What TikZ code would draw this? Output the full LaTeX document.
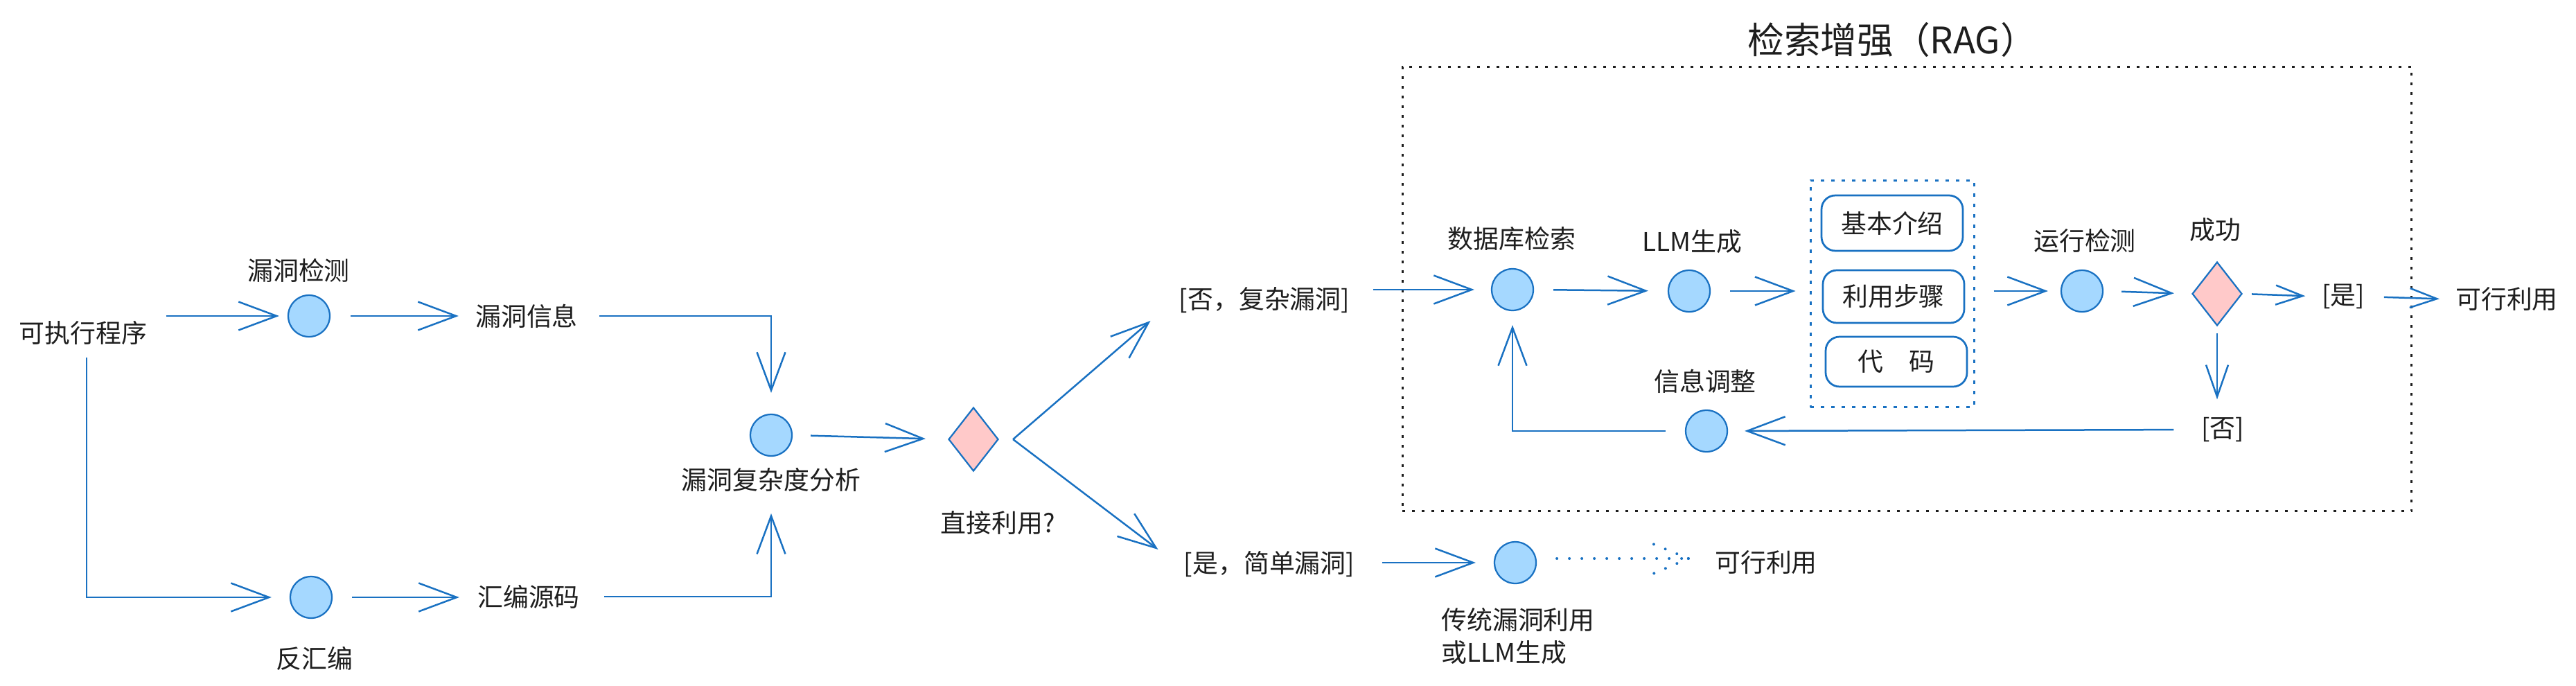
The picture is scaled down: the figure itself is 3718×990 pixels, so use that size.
\documentclass[tikz,border=0pt]{standalone}
\usepackage{fontspec}
\setmainfont{Noto Sans CJK SC}
\usetikzlibrary{arrows.meta,shapes.geometric}
\definecolor{blueA}{HTML}{1971C2}
\definecolor{fillA}{HTML}{A5D8FF}
\definecolor{fillB}{HTML}{FFC9C9}
\definecolor{ink}{HTML}{1E1E1E}
\begin{document}
\begin{tikzpicture}[x=0.02cm,y=-0.02cm,
  txt/.style={font=\fontsize{21pt}{26pt}\selectfont, text=ink, inner sep=0pt},
  ttlstyle/.style={font=\fontsize{30pt}{36pt}\selectfont, text=ink, inner sep=0pt},
  circ/.style={circle, draw=blueA, fill=fillA, line width=0.045cm, minimum size=1.2cm, inner sep=0pt},
  dia/.style={diamond, draw=blueA, fill=fillB, line width=0.045cm, minimum width=1.44cm, minimum height=1.84cm, inner sep=0pt},
  rbox/.style={draw=blueA, line width=0.055cm, rounded corners=0.4cm, minimum width=4.08cm, inner sep=0pt, font=\fontsize{21pt}{26pt}\selectfont, text=ink},
  ragbox/.style={draw=ink, line width=0.06cm, dash pattern=on 0.08cm off 0.2cm, minimum width=29.14cm, minimum height=12.84cm, inner sep=0pt},
  grpbox/.style={draw=blueA, line width=0.06cm, dash pattern=on 0.1cm off 0.2cm, minimum width=4.72cm, minimum height=6.56cm, inner sep=0pt},
  arr/.style={draw=blueA, line width=0.05cm, -{Straight Barb[length=1.1cm,width=0.82cm]}},
  arrm/.style={draw=blueA, line width=0.05cm, -{Straight Barb[length=0.92cm,width=0.64cm]}},
  arrs/.style={draw=blueA, line width=0.05cm, -{Straight Barb[length=0.78cm,width=0.56cm]}},
  dotl/.style={draw=blueA, line width=0.08cm, line cap=round, dash pattern=on 0pt off 0.36cm}
]
\useasboundingbox (0,0) rectangle (3718,990);

% left part
\node[txt] (prog) at (120,480) {可执行程序};
\node[circ] (c1) at (446,456) {};
\node[txt] (l1) at (431,390) {漏洞检测};
\node[txt] (info) at (760,456) {漏洞信息};
\node[circ] (c2) at (449,862) {};
\node[txt] (l2) at (454,950) {反汇编};
\node[txt] (asm) at (763,861) {汇编源码};
\node[circ] (c3) at (1113,628) {};
\node[txt] (l3) at (1113,692) {漏洞复杂度分析};
\node[dia] (d1) at (1405,634) {};
\node[txt] (l4) at (1440,755) {直接利用?};
\node[txt] (no1) at (1825,433) {[否，复杂漏洞]};
\node[txt] (yes1) at (1832,814) {[是，简单漏洞]};

% RAG
\node[ragbox] (rag) at (2752.5,417) {};
\node[ttlstyle] (ttl) at (2731,57) {检索增强（RAG）};
\node[circ] (c4) at (2183,418) {};
\node[txt] (ldb) at (2182,344) {数据库检索};
\node[circ] (c5) at (2438,420) {};
\node[txt] (lllm) at (2442,349) {LLM生成};
\node[grpbox] (grp) at (2731,424) {};
\node[rbox, minimum height=1.6cm] (b1) at (2731,322) {基本介绍};
\node[rbox, minimum height=1.52cm] (b2) at (2733,428) {利用步骤};
\node[rbox, minimum height=1.44cm] (b3) at (2737,522) {代　码};
\node[circ] (c6) at (3005,420) {};
\node[txt] (lrun) at (3009,347) {运行检测};
\node[dia] (d2) at (3200,424) {};
\node[txt] (lsucc) at (3197,332) {成功};
\node[txt] (yes2) at (3382,428) {[是]};
\node[txt] (ok1) at (3618,432) {可行利用};
\node[txt] (no2) at (3208,620) {[否]};
\node[circ] (c7) at (2463,622) {};
\node[txt] (ladj) at (2461,550) {信息调整};

% lower branch
\node[circ] (c8) at (2187,812) {};
\node[txt] (ok2) at (2549,812) {可行利用};
\node[txt, align=left, anchor=north west, font=\fontsize{21pt}{0.94cm}\selectfont] (ltrad) at (2080,877) {传统漏洞利用\\或LLM生成};

% connectors
\draw[arr, shorten <=0.54cm, shorten >=0.24cm] (prog.east |- c1.west) -- (c1.west);
\draw[arr, shorten <=0.58cm, shorten >=0.48cm] (c1.east) -- (info.west |- c1.east);
\draw[arr, shorten <=0.62cm, shorten >=0.6cm] (info.east) -| (c3.north);
\draw[arr, shorten <=0.37cm, shorten >=0.52cm] ([xshift=0.1cm]prog.south) |- (c2.west);
\draw[arr, shorten <=0.56cm, shorten >=0.52cm] (c2.east) -- (asm.west |- c2.east);
\draw[arr, shorten <=0.7cm, shorten >=0.63cm] (asm.east) -| (l3.south);
\draw[arr, shorten <=0.52cm, shorten >=0.64cm] (c3.east) -- (d1.west);
\draw[arr] ([xshift=0.4cm]d1.east) -- ([xshift=-0.82cm,yshift=-0.6cm]no1.west);
\draw[arr] ([xshift=0.4cm]d1.east) -- ([xshift=-0.74cm,yshift=0.42cm]yes1.west);
\draw[arr, shorten <=0.66cm, shorten >=0.48cm] (no1.east |- c4.west) -- (c4.west);
\draw[arr, shorten <=0.78cm, shorten >=0.52cm] (yes1.east |- c8.west) -- (c8.west);
\draw[arr, shorten <=0.56cm, shorten >=0.56cm] (c4.east) -- (c5.west);
\draw[arr, shorten <=0.56cm, shorten >=0.4cm] (c5.east) -- (c5.east -| grp.west);
\draw[arr, shorten <=0.54cm, shorten >=0.36cm] (grp.east |- c6.west) -- (c6.west);
\draw[arr, shorten <=0.52cm, shorten >=0.5cm] (c6.east) -- (d2.west);
\draw[arrs, shorten <=0.26cm, shorten >=0.47cm] (d2.east) -- (yes2.west);
\draw[arrs, shorten <=0.55cm, shorten >=0.46cm] (yes2.east) -- (ok1.west);
\draw[arrm, shorten <=0.2cm, shorten >=0.51cm] (d2.south) -- (d2.south |- no2.north);
\draw[arr, shorten <=0.79cm, shorten >=0.48cm] (no2.west) -- (c7.east);
\draw[arr, shorten <=0.56cm, shorten >=0.4cm] (c7.west) -| (c4.south);

% dotted arrow
\draw[dotl] ([xshift=0.58cm,yshift=0.12cm]c8.east) -- ([xshift=-0.76cm,yshift=0.12cm]ok2.west) coordinate (t8);
\draw[dotl] (t8) -- ++(-51,-21);
\draw[dotl] (t8) -- ++(-51,22);
\end{tikzpicture}
\end{document}
